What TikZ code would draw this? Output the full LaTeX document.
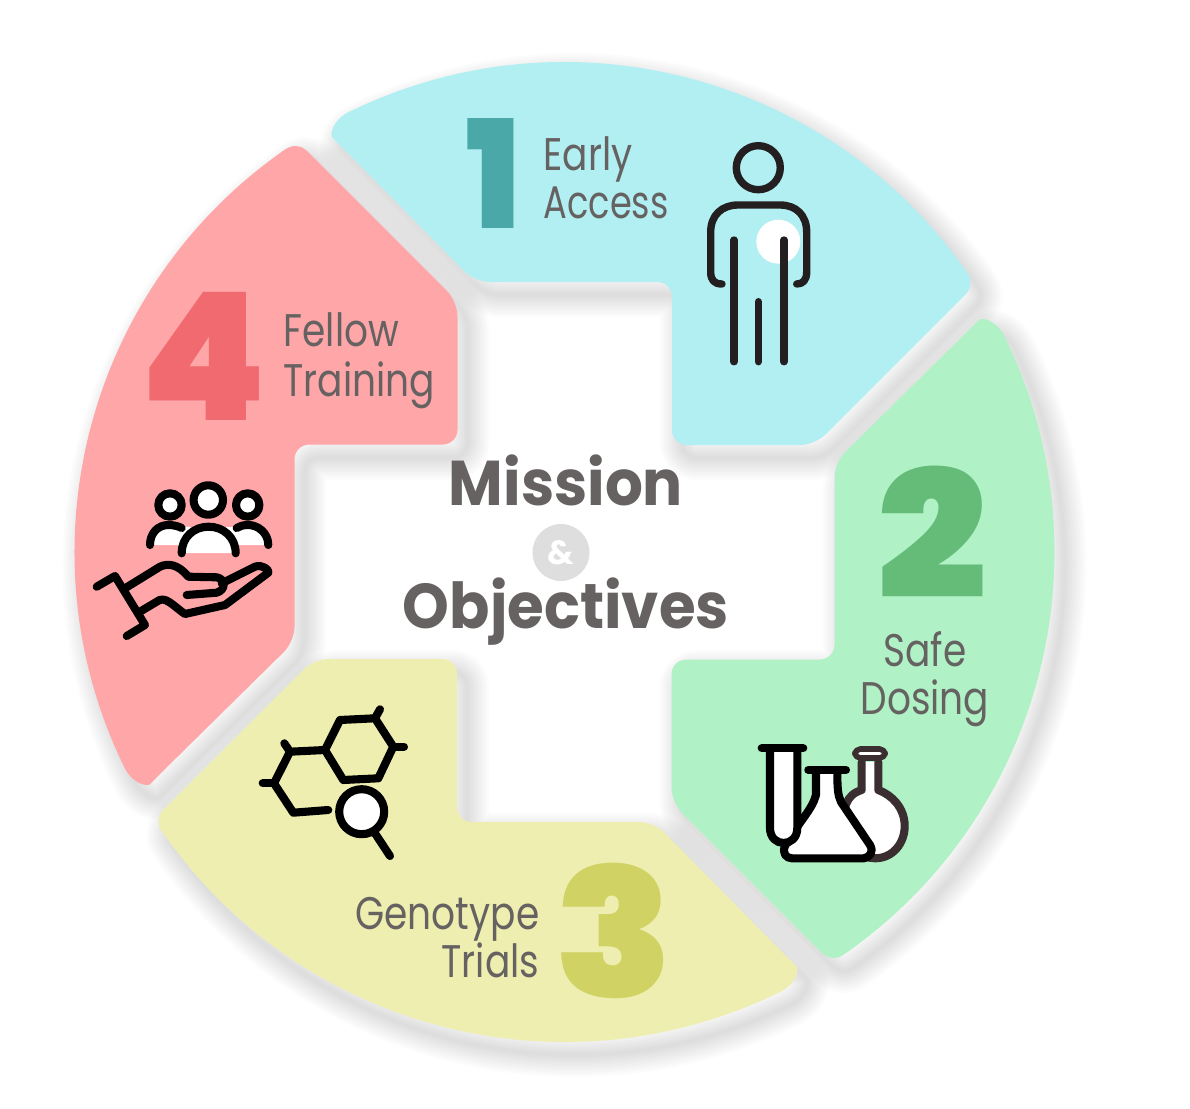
\documentclass[tikz,border=0pt]{standalone}
\usepackage{graphicx}
\usepackage{fontspec}
\setmainfont{Poppins}
\newfontfamily\numfont{Poppins Black}
\newfontfamily\lblfont[FakeStretch=0.82]{Poppins}
\newfontfamily\lblnarrow[FakeStretch=0.77]{Poppins}
\newfontfamily\headfont[FakeStretch=0.94]{Poppins}
\definecolor{blueP}{HTML}{B2EFF2}
\definecolor{greenP}{HTML}{B0F2C6}
\definecolor{yellowP}{HTML}{EEEEB0}
\definecolor{redP}{HTML}{FFA6A8}
\definecolor{num1}{HTML}{4AA9A8}
\definecolor{num2}{HTML}{64BC78}
\definecolor{num3}{HTML}{D0D264}
\definecolor{num4}{HTML}{F06A70}
\definecolor{txt}{HTML}{666262}
\definecolor{ink}{HTML}{000000}
\definecolor{ink2}{HTML}{231F20}
\definecolor{ink3}{HTML}{3A2E30}
\tikzset{
 lbl/.style={text=txt,inner sep=0pt,font=\lblfont\fontsize{13}{13}\selectfont},
 numb/.style={inner sep=0pt,anchor=base,font=\numfont\fontsize{46}{46}\selectfont},
 head/.style={text=txt,inner sep=0pt,anchor=base,font=\headfont\bfseries\fontsize{18}{18}\selectfont},
 icon/.style={draw=ink,line width=2.3pt,line cap=round,line join=round},
}
\def\petal{(116.23:490) arc[start angle=116.23,end angle=34.69,radius=490]
 .. controls (407.6,271.9) and (406.7,263.3) .. (400.8,257.3)
 [rounded corners=4.2pt] -- (250.5,107) -- (107.5,107) -- (107.5,270) -- (-89.5,270) -- (-221.8,404.3)
 [sharp corners] .. controls (-234.5,417) and (-232.4,431.1) .. (116.23:490) -- cycle}
\begin{document}
\begin{tikzpicture}[x=0.01cm,y=-0.01cm]
\useasboundingbox (0,0) rectangle (1190,1109);
% soft shadows
\foreach \k in {0,1,2,3}{
 \foreach \w in {44,40,...,4}{
  \begin{scope}[shift={(574.5,565)},y=0.01cm,rotate=-90*\k]
   \draw[black,opacity=0.011,line width=\w*0.2845pt,line join=round] \petal;
  \end{scope}
 }
}
% petals
\foreach \k/\c in {0/blueP,1/greenP,2/yellowP,3/redP}{
 \begin{scope}[shift={(564.5,552)},y=0.01cm,rotate=-90*\k]
  \fill[\c] \petal;
 \end{scope}
}
% numbers
\node[numb,text=num1] (n1) at (494,228) {\scalebox{0.84}[0.93]{1}};
\node[numb,text=num2] (n2) at (932,598) {\fontsize{55}{55}\selectfont\scalebox{1}[0.917]{2}};
\node[numb,text=num3] (n3) at (614,997) {\fontsize{55}{55}\selectfont\scalebox{1}[0.93]{3}};
\node[numb,text=num4] (n4) at (204,420) {\fontsize{53}{53}\selectfont\scalebox{0.965}[0.955]{4}};
% labels
\node[lbl,anchor=base west] (l1a) at (543,170) {Early};
\node[lbl,anchor=base west] (l1b) at (543,218) {\lblnarrow Access};
\node[lbl,anchor=base] (l2a) at (925,666) {Safe};
\node[lbl,anchor=base] (l2b) at (925,714) {Dosing};
\node[lbl,anchor=base east] (l3a) at (540,929) {Genotype};
\node[lbl,anchor=base east] (l3b) at (540,977) {Trials};
\node[lbl,anchor=base west] (l4a) at (283,346) {Fellow};
\node[lbl,anchor=base west] (l4b) at (283,396) {Training};
% centre
\node[head] (m) at (566,505) {Mission};
\node[circle,fill=black!13,minimum size=57*0.2845pt,inner sep=0pt,text=white,font=\bfseries\fontsize{9.5}{9.5}\selectfont] (amp) at (561,552.5) {\&};
\node[head] (o) at (566,628) {Objectives};
% person
\fill[white] (778.3,241.7) circle[radius=22];
\begin{scope}[icon,draw=ink2,line width=2.1pt]
\draw (758.3,167.7) circle[radius=22];
\draw (722,284) .. controls (714,284) and (710.7,280) .. (710.7,272) -- (710.7,232) .. controls (710.7,215) and (722,205) .. (738,205) -- (780,205) .. controls (796,205) and (806.7,215) .. (806.7,232) -- (806.7,272) .. controls (806.7,280) and (803,284) .. (796.7,284);
\draw (734,240) -- (734,361.7);
\draw (758.3,301.7) -- (758.3,361.7);
\draw (784,240) -- (784,361.7);
\end{scope}
% flasks
\begin{scope}[icon]
\draw[draw=ink3,fill=white] (861.7,762) -- (861.7,790) .. controls (845,795) and (843,810) .. (843.5,826) .. controls (844,845) and (860,858.3) .. (875,858.3) .. controls (893,858.3) and (904.7,843) .. (904.7,826) .. controls (904.7,808) and (892,795) .. (878.3,790) -- (878.3,762);
\draw[draw=ink3,fill=white,rounded corners=1.5pt,line width=1.6pt] (855,749) rectangle (885,758);
\draw[fill=white] (816,770) -- (816,795) .. controls (812,810) and (800,820) .. (785,846) .. controls (782,853) and (786,858.3) .. (792,858.3) -- (864,858.3) .. controls (870,857) and (874,852) .. (870,845) -- (841,802) .. controls (838,795) and (837.3,790) .. (837.3,770);
\draw (808.3,770) -- (846,770);
\draw[fill=white] (770,748.3) -- (770,828) .. controls (770,848) and (797.3,848) .. (797.3,828) -- (797.3,748.3);
\draw (761.7,748.3) -- (803.3,748.3);
\end{scope}
% hexagons
\begin{scope}[icon]
\draw (340,720) -- (375,718.3) -- (393.3,746.7) -- (378.3,778.3) -- (343.3,780) -- (325,750) -- cycle;
\draw (375,718.3) -- (380,709.3);
\draw (393.3,746.7) -- (404,746.7);
\draw (325,750) -- (290,751.7) -- (274,783.3) -- (293.3,812.7) -- (328.3,810);
\draw (290,751.7) -- (284.3,743.3);
\draw (274,783.3) -- (262.7,783.3);
\draw[fill=white] (361.7,811.7) circle[radius=22.5];
\draw (375,833.3) -- (390,856);
\end{scope}
% people
\fill[white] (150,545) .. controls (150,533) and (158,525) .. (168,525) -- (190,527) -- (240,527) -- (250,525) .. controls (260,525) and (268,533) .. (268.3,545) -- (236,545) -- (236,553) -- (181.7,553) -- (181.7,545) -- cycle;
\begin{scope}[icon]
\draw[fill=white] (208.3,500) circle[radius=14.7];
\draw[fill=white] (170,505) circle[radius=11.7];
\draw[fill=white] (247.7,505) circle[radius=11.7];
\draw (181.7,553.3) .. controls (181.7,537) and (194,526.7) .. (208.7,526.7) .. controls (223,526.7) and (235.7,537) .. (235.7,553.3);
\draw (150,545) .. controls (150,533) and (158,525) .. (168.3,525) .. controls (173,525) and (178,526) .. (181.7,528);
\draw (268.3,545) .. controls (268.3,533) and (258,525) .. (248.3,525) .. controls (243,525) and (240,526) .. (236.7,528);
% hand
\draw (96.7,586.7) -- (115,576) -- (145,625) -- (126.7,636);
\draw (125,588.3) -- (160,566.7) .. controls (168,563) and (178,564) .. (188.3,576.7) -- (216.7,577.3) .. controls (226,579) and (226,590) .. (216.7,592.7) -- (186.7,595);
\draw (221.7,583.3) -- (255,566.7) .. controls (262,564) and (270,570) .. (268.3,572.7) -- (225,605) -- (185,614) .. controls (172,605) and (165,595) .. (156.7,601.7) -- (140,611.7);
\end{scope}
\end{tikzpicture}
\end{document}
